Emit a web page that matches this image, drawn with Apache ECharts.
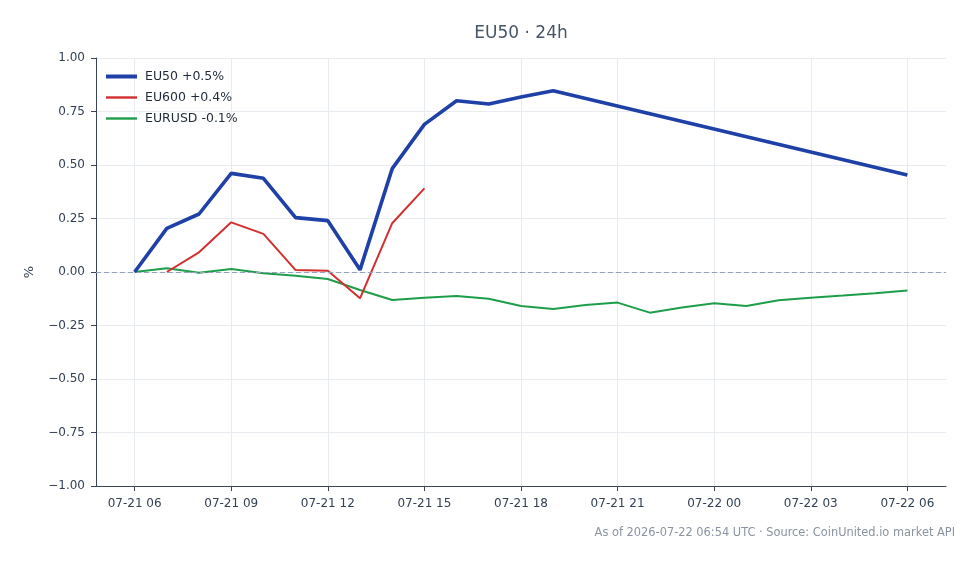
<!DOCTYPE html>
<html>
<head>
<meta charset="utf-8">
<script src="https://cdn.jsdelivr.net/npm/echarts@6/dist/echarts.min.js"></script>
<style>
  html, body { margin: 0; padding: 0; background: #fff; }
  #chart { width: 978px; height: 564px; }
</style>
</head>
<body>
<div id="chart"></div>
<script>
// hourly time stamps (UTC), 07-21 06:00 .. 07-22 06:00
var hours = ['2026-07-21 06', '2026-07-21 07', '2026-07-21 08', '2026-07-21 09', '2026-07-21 10',
  '2026-07-21 11', '2026-07-21 12', '2026-07-21 13', '2026-07-21 14', '2026-07-21 15',
  '2026-07-21 16', '2026-07-21 17', '2026-07-21 18', '2026-07-21 19', '2026-07-21 20',
  '2026-07-21 21', '2026-07-21 22', '2026-07-21 23', '2026-07-22 00', '2026-07-22 01',
  '2026-07-22 02', '2026-07-22 03', '2026-07-22 04', '2026-07-22 05', '2026-07-22 06'];

// % change, null = no quote that hour
var eu50 = [0.00, 0.204, 0.271, 0.461, 0.438, 0.254, 0.240, 0.010, 0.483, 0.690,
  0.800, 0.785, 0.818, 0.847, null, null, null, null, null, null,
  null, null, null, null, 0.453];
var eu600 = [null, 0.00, 0.092, 0.232, 0.178, 0.009, 0.006, -0.123, 0.228, 0.391,
  null, null, null, null, null, null, null, null, null, null,
  null, null, null, null, null];
var eurusd = [0.00, 0.017, -0.003, 0.014, -0.006, -0.017, -0.033, -0.084, -0.131, -0.120,
  -0.112, -0.125, -0.159, -0.173, -0.154, -0.143, -0.190, -0.166, -0.146, -0.159,
  -0.132, -0.120, -0.110, -0.099, -0.087];

var seriesNames = ['EU50 +0.5%', 'EU600 +0.4%', 'EURUSD -0.1%'];
var seriesColors = ['#1f40a6', '#d32f2f', '#1e9e4a'];
var seriesWidths = [3.6, 2, 2];
var yTicks = [-1, -0.75, -0.5, -0.25, 0, 0.25, 0.5, 0.75, 1];

var H = 3600000;
function ts(s) { return Date.UTC(+s.slice(0, 4), +s.slice(5, 7) - 1, +s.slice(8, 10), +s.slice(11, 13)); }
var t0 = ts(hours[0]);
var t1 = ts(hours[hours.length - 1]);
var pad = (t1 - t0) * 0.05;

function pairs(vals) {
  var out = [];
  vals.forEach(function (v, i) {
    if (v !== null) out.push([ts(hours[i]), v]);
  });
  return out;
}
function pad2(n) { return (n < 10 ? '0' : '') + n; }

var chart = echarts.init(document.getElementById('chart'));
var axisColor = '#394456';
var gridColor = '#e8ebf0';

// grid 0 carries the data (padded range); grid 1 only draws the hour ticks
var plotL = 96, plotR = 32, plotW = 978 - plotL - plotR;
var inner = plotW * pad / (t1 - t0 + 2 * pad);

var option = {
  title: {
    text: 'EU50 · 24h',
    left: plotL + plotW / 2 - 5,
    textAlign: 'center',
    top: 20,
    textStyle: { fontFamily: 'DejaVu Sans', fontSize: 17, fontWeight: 'normal', color: '#475569' }
  },
  graphic: [{
    type: 'text',
    right: 23,
    top: 528,
    style: {
      text: 'As of 2026-07-22 06:54 UTC · Source: CoinUnited.io market API',
      fontFamily: 'DejaVu Sans',
      fontSize: 11.4,
      fill: '#8a93a2'
    }
  }],
  legend: {
    orient: 'vertical',
    left: 99,
    top: 65,
    itemWidth: 31,
    itemHeight: 12,
    itemGap: 8,
    itemStyle: { opacity: 0 },
    data: seriesNames.map(function (n, i) {
      return { name: n, lineStyle: { color: seriesColors[i], width: seriesWidths[i] + 0.4 } };
    }),
    textStyle: { fontFamily: 'DejaVu Sans', fontSize: 12.5, color: '#1f2937', padding: [0, 0, 0, 3] }
  },
  grid: [
    { left: plotL, right: plotR, top: 58, bottom: 78 },
    { left: plotL + inner, right: plotR + inner, top: 58, bottom: 78 }
  ],
  xAxis: [{
    type: 'value',
    gridIndex: 0,
    min: t0 - pad,
    max: t1 + pad,
    axisLine: { show: true, onZero: false, lineStyle: { color: axisColor } },
    axisTick: { show: false },
    axisLabel: { show: false },
    splitLine: { show: false }
  }, {
    type: 'value',
    gridIndex: 1,
    min: t0,
    max: t1,
    interval: 3 * H,
    axisLine: { show: false, onZero: false },
    axisTick: { show: true, length: 5, lineStyle: { color: axisColor } },
    axisLabel: {
      margin: 12,
      fontFamily: 'DejaVu Sans',
      fontSize: 12,
      color: '#334155',
      formatter: function (v) {
        var d = new Date(v);
        return pad2(d.getUTCMonth() + 1) + '-' + pad2(d.getUTCDate()) + ' ' + pad2(d.getUTCHours());
      }
    },
    splitLine: { show: true, lineStyle: { color: gridColor } }
  }],
  yAxis: [{
    type: 'value',
    gridIndex: 0,
    min: yTicks[0],
    max: yTicks[yTicks.length - 1],
    interval: 0.25,
    name: '%',
    nameLocation: 'middle',
    nameGap: 60,
    nameRotate: 90,
    nameTextStyle: { fontFamily: 'DejaVu Sans', fontSize: 13, color: '#334155' },
    axisLine: { show: true, onZero: false, lineStyle: { color: axisColor } },
    axisTick: { show: true, length: 5, lineStyle: { color: axisColor } },
    axisLabel: {
      margin: 11,
      fontFamily: 'DejaVu Sans',
      fontSize: 12,
      color: '#334155',
      formatter: function (v) { return (v < 0 ? '\u2212' : '') + Math.abs(v).toFixed(2); }
    },
    splitLine: { show: true, lineStyle: { color: gridColor } }
  }, {
    type: 'value',
    gridIndex: 1,
    min: yTicks[0],
    max: yTicks[yTicks.length - 1],
    show: false,
    axisLine: { onZero: false },
    splitLine: { show: false }
  }],
  series: [{
    name: seriesNames[0],
    type: 'line',
    xAxisIndex: 0,
    yAxisIndex: 0,
    data: pairs(eu50),
    symbol: 'none',
    z: 5,
    lineStyle: { color: seriesColors[0], width: seriesWidths[0] },
    itemStyle: { color: seriesColors[0] },
    markLine: {
      silent: true,
      symbol: 'none',
      label: { show: false },
      lineStyle: { color: '#94a3b8', type: [5, 3], width: 1 },
      data: [{ yAxis: 0 }]
    }
  }, {
    name: seriesNames[1],
    type: 'line',
    xAxisIndex: 0,
    yAxisIndex: 0,
    data: pairs(eu600),
    symbol: 'none',
    z: 4,
    lineStyle: { color: seriesColors[1], width: seriesWidths[1] },
    itemStyle: { color: seriesColors[1] }
  }, {
    name: seriesNames[2],
    type: 'line',
    xAxisIndex: 0,
    yAxisIndex: 0,
    data: pairs(eurusd),
    symbol: 'none',
    z: 3,
    lineStyle: { color: seriesColors[2], width: seriesWidths[2] },
    itemStyle: { color: seriesColors[2] }
  }]
};

chart.setOption(option);
</script>
</body>
</html>
